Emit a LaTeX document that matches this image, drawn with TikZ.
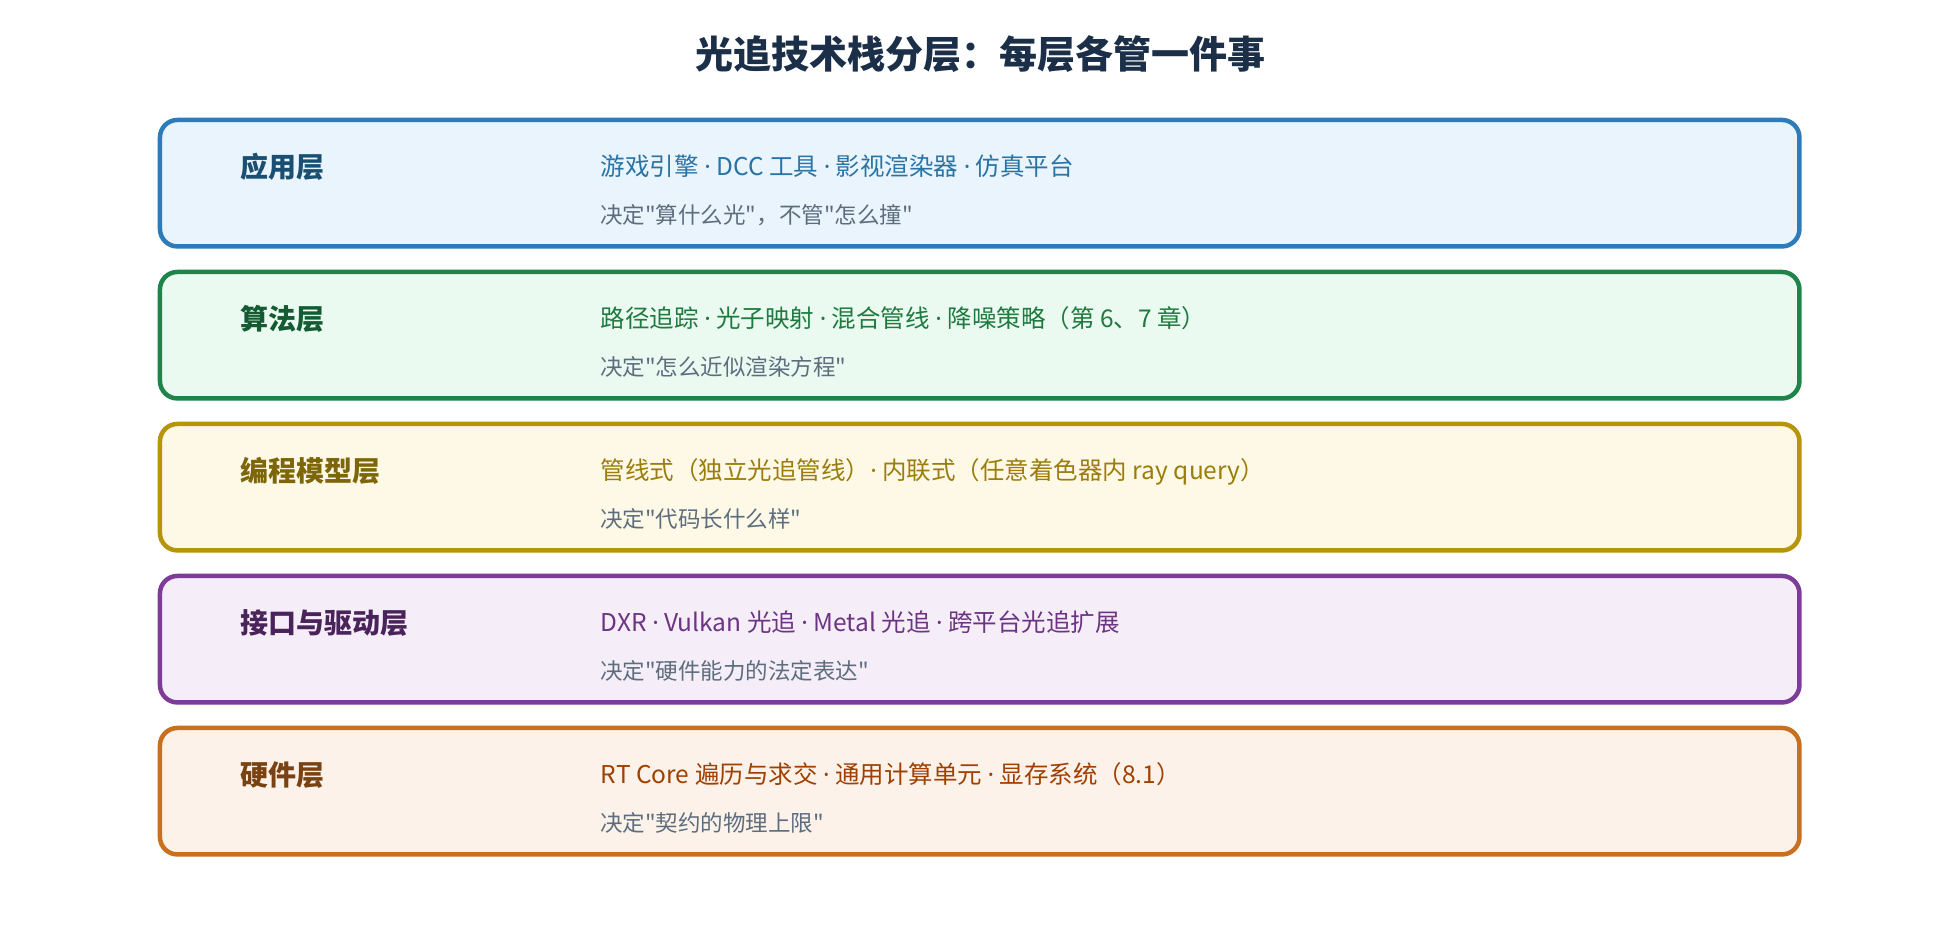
\documentclass[tikz,border=0pt]{standalone}
\usepackage{fontspec}
\setmainfont{Noto Sans CJK SC}[Ligatures=TeXOff]
\newfontfamily\dotfont{Noto Sans}
\newcommand{\mdot}{{\dotfont ·}}
\usetikzlibrary{positioning}

\definecolor{titlenavy}{HTML}{1B2F48}
\definecolor{notegray}{HTML}{5D6D7E}
\definecolor{appline}{HTML}{2E7BBA}
\definecolor{appfill}{HTML}{EAF4FC}
\definecolor{applab}{HTML}{1B4F72}
\definecolor{apptext}{HTML}{2874A6}
\definecolor{algoline}{HTML}{1E8449}
\definecolor{algofill}{HTML}{EAFAF1}
\definecolor{algolab}{HTML}{145A32}
\definecolor{algotext}{HTML}{1E7A3E}
\definecolor{progline}{HTML}{B7950B}
\definecolor{progfill}{HTML}{FEF9E7}
\definecolor{proglab}{HTML}{7D6608}
\definecolor{progtext}{HTML}{9A7D0A}
\definecolor{apiline}{HTML}{7D3C98}
\definecolor{apifill}{HTML}{F5EEF8}
\definecolor{apilab}{HTML}{4A235A}
\definecolor{apitext}{HTML}{6C3483}
\definecolor{hwline}{HTML}{CA6F1E}
\definecolor{hwfill}{HTML}{FDF2E9}
\definecolor{hwlab}{HTML}{784212}
\definecolor{hwtext}{HTML}{A04000}

\begin{document}
\begin{tikzpicture}[
  layer/.style={draw, rounded corners=17.5pt, line width=4.5pt,
    minimum width=1639.5pt, minimum height=126.5pt},
  lab/.style={anchor=base west, inner sep=0pt, font=\bfseries\fontsize{28}{34}\selectfont},
  desc/.style={anchor=base west, inner sep=0pt, font=\fontsize{24.5}{30}\selectfont},
  note/.style={anchor=base west, inner sep=0pt, font=\fontsize{22.5}{27}\selectfont, text=notegray},
  node distance=21pt]
    \useasboundingbox[fill=white] (0,0) rectangle (1960pt,940pt);
    \node (title) [anchor=base, text=titlenavy, font=\bfseries\fontsize{38}{44}\selectfont]
        at (980pt,871pt) {光追技术栈分层：每层各管一件事};

    % the five layers, top to bottom
    \node (app) [layer, draw=appline, fill=appfill] at (979.7pt,756.8pt) {};
    \node (algo) [layer, draw=algoline, fill=algofill, below=of app] {};
    \node (prog) [layer, draw=progline, fill=progfill, below=of algo] {};
    \node (api) [layer, draw=apiline, fill=apifill, below=of prog] {};
    \node (hw) [layer, draw=hwline, fill=hwfill, below=of api] {};

    \node (app-lab) [lab, text=applab] at ([xshift=82.3pt,yshift=-59.6pt]app.north west) {应用层};
    \node (app-desc) [desc, text=apptext] at ([xshift=443pt,yshift=-57.4pt]app.north west)
        {游戏引擎 \mdot{} DCC 工具 \mdot{} 影视渲染器 \mdot{} 仿真平台};
    \node (app-note) [note] at ([xshift=442.3pt,yshift=-105.8pt]app.north west)
        {决定"算什么光"，不管"怎么撞"};

    \node (algo-lab) [lab, text=algolab] at ([xshift=82.3pt,yshift=-59.6pt]algo.north west) {算法层};
    \node (algo-desc) [desc, text=algotext] at ([xshift=443pt,yshift=-57.4pt]algo.north west)
        {路径追踪 \mdot{} 光子映射 \mdot{} 混合管线 \mdot{} 降噪策略（第 6、7 章）};
    \node (algo-note) [note] at ([xshift=442.3pt,yshift=-105.8pt]algo.north west)
        {决定"怎么近似渲染方程"};

    \node (prog-lab) [lab, text=proglab] at ([xshift=82.3pt,yshift=-59.6pt]prog.north west) {编程模型层};
    \node (prog-desc) [desc, text=progtext] at ([xshift=443pt,yshift=-57.4pt]prog.north west)
        {管线式（独立光追管线）\mdot{} 内联式（任意着色器内 ray query）};
    \node (prog-note) [note] at ([xshift=442.3pt,yshift=-105.8pt]prog.north west)
        {决定"代码长什么样"};

    \node (api-lab) [lab, text=apilab] at ([xshift=82.3pt,yshift=-59.6pt]api.north west) {接口与驱动层};
    \node (api-desc) [desc, text=apitext] at ([xshift=443pt,yshift=-57.4pt]api.north west)
        {DXR \mdot{} Vulkan 光追 \mdot{} Metal 光追 \mdot{} 跨平台光追扩展};
    \node (api-note) [note] at ([xshift=442.3pt,yshift=-105.8pt]api.north west)
        {决定"硬件能力的法定表达"};

    \node (hw-lab) [lab, text=hwlab] at ([xshift=82.3pt,yshift=-59.6pt]hw.north west) {硬件层};
    \node (hw-desc) [desc, text=hwtext] at ([xshift=443pt,yshift=-57.4pt]hw.north west)
        {RT Core 遍历与求交 \mdot{} 通用计算单元 \mdot{} 显存系统（8.1）};
    \node (hw-note) [note] at ([xshift=442.3pt,yshift=-105.8pt]hw.north west)
        {决定"契约的物理上限"};
\end{tikzpicture}
\end{document}
